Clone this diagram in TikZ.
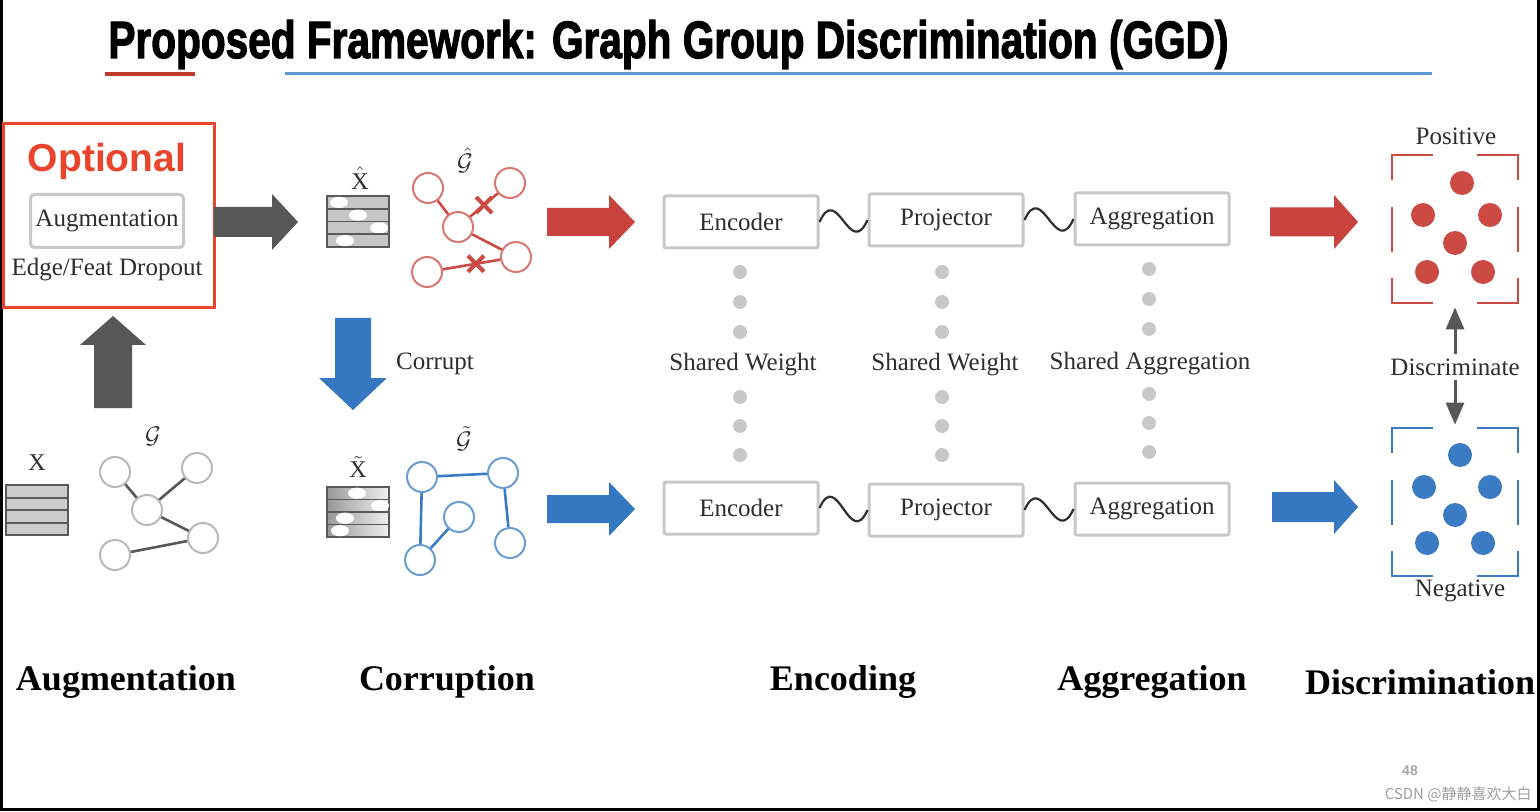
\documentclass[tikz,border=0pt]{standalone}
\usepackage{amsmath}
\usepackage{graphicx}
\usepackage{fontspec}
\setmainfont{Liberation Serif}
\newfontfamily\sansfont{Liberation Sans}
\newfontfamily\titlefont{Liberation Sans Bold}[FakeBold=2.5]
\newfontfamily\cjkfont{Noto Sans CJK SC}
\usetikzlibrary{arrows.meta,positioning,calc,shapes.misc}

\definecolor{arrgray}{HTML}{575757}
\definecolor{arrred}{HTML}{C8423E}
\definecolor{arrblue}{HTML}{3577C0}
\definecolor{optred}{HTML}{E8452C}
\definecolor{dotgray}{HTML}{C8C8C8}
\definecolor{txtgray}{HTML}{2E2E2E}
\definecolor{posred}{HTML}{CC4A44}
\definecolor{negblue}{HTML}{3A7BC4}
\definecolor{linered}{HTML}{C0392B}
\definecolor{lineblue}{HTML}{5B9BD5}

\tikzstyle{lbl} = [font=\fontsize{12.5}{14}\selectfont, text=txtgray, inner sep=2pt]
\tikzstyle{stage} = [font=\fontsize{18}{20}\selectfont\bfseries, text=black]
\tikzstyle{box} = [draw=dotgray, line width=1.5pt, fill=white, rounded corners=1pt, minimum width=77pt, minimum height=26pt, lbl]
\tikzstyle{sdot} = [circle, fill=dotgray, inner sep=0pt, minimum size=7pt]
\tikzstyle{xmark} = [cross out, draw=posred, line width=2pt, minimum size=6pt, inner sep=0pt]
\tikzstyle{wave} = [draw=txtgray, line width=1.1pt]
\tikzstyle{darr} = [draw=arrgray, line width=1.5pt, -{Triangle[width=9pt,length=11pt]}]
\tikzset{>=latex,
  gnode/.style={circle, draw=#1, fill=white, line width=1pt, minimum size=15pt, inner sep=0pt},
  gedge/.style={draw=#1, line width=1.3pt},
  cdot/.style={circle, fill=#1, inner sep=0pt, minimum size=12pt}}

% big block arrow: x, y, length, angle, half shaft, half head, head length, colour
\newcommand{\fatarrow}[8]{%
  \fill[#8, shift={(#1,#2)}, rotate=#4] (0,-#5) -- (#3-#7,-#5) -- (#3-#7,-#6) -- (#3,0)
    -- (#3-#7,#6) -- (#3-#7,#5) -- (0,#5) -- cycle;}
% open corner frame round a group: x, y (top left), colour
\newcommand{\groupframe}[3]{%
  \draw[#3, line width=1pt] (#1+41,#2) -- (#1,#2) -- (#1,#2+25);
  \draw[#3, line width=1pt] (#1+85,#2) -- (#1+126,#2) -- (#1+126,#2+25);
  \draw[#3, line width=1pt] (#1,#2+52) -- (#1,#2+97) (#1+126,#2+52) -- (#1+126,#2+97);
  \draw[#3, line width=1pt] (#1+41,#2+148) -- (#1,#2+148) -- (#1,#2+123);
  \draw[#3, line width=1pt] (#1+85,#2+148) -- (#1+126,#2+148) -- (#1+126,#2+123);}

\begin{document}
\begin{tikzpicture}[x=0.5pt,y=-0.5pt]
    \useasboundingbox (0,0) rectangle (1540,812);
    \fill[white] (0,0) rectangle (1540,812);
    \draw[line width=1.5pt] (1,0) -- (1,809) -- (1538,809) -- (1538,0);

    % title
    \node[anchor=base west, inner sep=0pt] (title) at (108,58)
      {\resizebox{560pt}{19pt}{\titlefont Proposed Framework: Graph Group Discrimination (GGD)}};
    \draw[linered, line width=2pt] (105,74) -- (195,74);
    \draw[lineblue, line width=1.5pt] (285,74) -- (1432,74);

    % augmentation
    \node[draw=optred, line width=1.5pt, minimum width=105.5pt, minimum height=92pt] (optbox) at (108.5,216) {};
    \node[font=\sansfont\bfseries\fontsize{19.5}{22}\selectfont, text=optred] (opt) at (107,161) {Optional};
    \node[box, rounded corners=2pt, minimum width=76.5pt, minimum height=26.5pt] (augbox) at (107,221) {Augmentation};
    \node[lbl] (drop) at (107,270) {Edge/Feat Dropout};
    \fatarrow{214}{222}{84}{0}{15}{28}{26}{arrgray}
    \fatarrow{113}{408}{92}{90}{19}{33}{29}{arrgray}

    \node[lbl, font=\fontsize{12}{14}\selectfont] (xlab) at (37,463) {X};
    \foreach \i in {0,...,3}
      \draw[fill=gray!40, draw=gray!70!black, line width=1pt] (6,485+\i*12.5) rectangle ++(62,12.5);
    \node[lbl] (glab) at (153,436) {$\mathcal{G}$};
    \node[gnode=gray!55] (a1) at (115,472) {};
    \node[gnode=gray!55] (a2) at (197,468) {};
    \node[gnode=gray!55] (a3) at (147,510) {};
    \node[gnode=gray!55] (a4) at (203,538) {};
    \node[gnode=gray!55] (a5) at (115,555) {};
    \draw[gedge=arrgray] (a1) -- (a3) (a2) -- (a3) (a3) -- (a4) (a4) -- (a5);

    % corruption
    \node[lbl, font=\fontsize{12}{14}\selectfont] (xhat) at (360,178) {$\hat{\text{X}}$};
    \foreach \ex [count=\i from 0] in {339,358,379,345} {
      \draw[fill=gray!45, draw=gray!70!black, line width=0.8pt] (327,196+\i*12.75) rectangle ++(62,12.75);
      \fill[white] (\ex,202.4+\i*12.75) ellipse (4.5pt and 2.8pt);
    }
    \node[lbl] (ghat) at (465,160) {$\hat{\mathcal{G}}$};
    \node[gnode=posred!75] (r1) at (428,188) {};
    \node[gnode=posred!75] (r2) at (510,183) {};
    \node[gnode=posred!75] (r3) at (458,227) {};
    \node[gnode=posred!75] (r4) at (516,257) {};
    \node[gnode=posred!75] (r5) at (427,272) {};
    \draw[gedge=posred] (r1) -- (r3) (r3) -- (r2) (r3) -- (r4) (r4) -- (r5);
    \node[xmark] (cut1) at ($(r3)!0.5!(r2)$) {};
    \node[xmark] (cut2) at ($(r5)!0.55!(r4)$) {};

    \fatarrow{353}{318}{92}{-90}{18}{34}{32}{arrblue}
    \node[lbl] (corrupt) at (435,364) {Corrupt};

    \node[lbl, font=\fontsize{12}{14}\selectfont] (xtil) at (358,467) {$\tilde{\text{X}}$};
    \foreach \ex [count=\i from 0] in {357,380,345,340} {
      \shadedraw[left color=gray!80, right color=gray!12, draw=gray!70!black, line width=0.8pt] (327,487+\i*12.5) rectangle ++(62,12.5);
      \fill[white] (\ex,493.2+\i*12.5) ellipse (4.5pt and 2.8pt);
    }
    \node[lbl] (gtil) at (464,439) {$\tilde{\mathcal{G}}$};
    \node[gnode=negblue!75] (b1) at (422,477) {};
    \node[gnode=negblue!75] (b2) at (503,473) {};
    \node[gnode=negblue!75] (b3) at (459,517) {};
    \node[gnode=negblue!75] (b4) at (510,543) {};
    \node[gnode=negblue!75] (b5) at (420,560) {};
    \draw[gedge=negblue] (b1) -- (b2) (b1) -- (b5) (b5) -- (b3) (b2) -- (b4);

    \fatarrow{547}{222}{88}{0}{14}{27}{26}{arrred}
    \fatarrow{547}{509}{88}{0}{14}{27}{26}{arrblue}

    % encoding and aggregation
    \node[box] (enc1) at (741,222) {Encoder};
    \node[box] (proj1) at (946,220) {Projector};
    \node[box] (agg1) at (1152,219) {Aggregation};
    \node[box] (enc2) at (741,508) {Encoder};
    \node[box] (proj2) at (946,510) {Projector};
    \node[box] (agg2) at (1152,509) {Aggregation};
    \draw[wave] (enc1.east) .. controls +(18,-40) and +(-18,40) .. (proj1.west);
    \draw[wave] (proj1.east) .. controls +(18,-40) and +(-18,40) .. (agg1.west);
    \draw[wave] (enc2.east) .. controls +(18,-40) and +(-18,40) .. (proj2.west);
    \draw[wave] (proj2.east) .. controls +(18,-40) and +(-18,40) .. (agg2.west);

    \foreach \cx/\off [count=\c] in {740/0,942/0,1149/-3}
      \foreach \cy [count=\k] in {272,302,332,397,426,455}
        \node[sdot] (s\c\k) at (\cx,\cy+\off) {};
    \node[lbl] (sw1) at (743,365) {Shared Weight};
    \node[lbl] (sw2) at (945,365) {Shared Weight};
    \node[lbl] (sagg) at (1150,364) {Shared Aggregation};

    \fatarrow{1270}{222}{88}{0}{14.5}{27}{24}{arrred}
    \fatarrow{1272}{507}{86}{0}{15}{27}{24}{arrblue}

    % discrimination
    \node[lbl] (pos) at (1456,136) {Positive};
    \groupframe{1392}{155}{posred}
    \node[minimum width=63pt, minimum height=74pt, inner sep=0pt] (posgrp) at (1455,229) {};
    \foreach \dx/\dy [count=\i] in {70/28,31/60,98/60,63/88,35/117,91/117}
      \node[cdot=posred] (pd\i) at (1392+\dx,155+\dy) {};

    \node[lbl] (neg) at (1460,591) {Negative};
    \groupframe{1392}{428}{negblue}
    \node[minimum width=63pt, minimum height=74pt, inner sep=0pt] (neggrp) at (1455,502) {};
    \foreach \dx/\dy [count=\i] in {68/27,32/59,98/59,63/87,35/115,91/115}
      \node[cdot=negblue] (nd\i) at (1392+\dx,428+\dy) {};

    \node[lbl] (disc) at (1455,367) {Discriminate};
    \draw[darr, shorten >=2pt] (disc) -- (posgrp);
    \draw[darr, shorten >=1.5pt] (disc) -- (neggrp);

    % stage names
    \node[stage] (st1) at (126,682) {Augmentation};
    \node[stage] (st2) at (447,682) {Corruption};
    \node[stage] (st3) at (843,682) {Encoding};
    \node[stage] (st4) at (1152,682) {Aggregation};
    \node[stage] (st5) at (1420,682) {Discrimination};

    \node[font=\sansfont\bfseries\fontsize{7}{8}\selectfont, text=gray!70] (pagenum) at (1410,771) {48};
    \node[anchor=east, inner sep=0pt, font=\cjkfont\fontsize{7.5}{9}\selectfont, text=gray!75] (mark) at (1532,794) {CSDN @静静喜欢大白};
  \end{tikzpicture}
\end{document}
